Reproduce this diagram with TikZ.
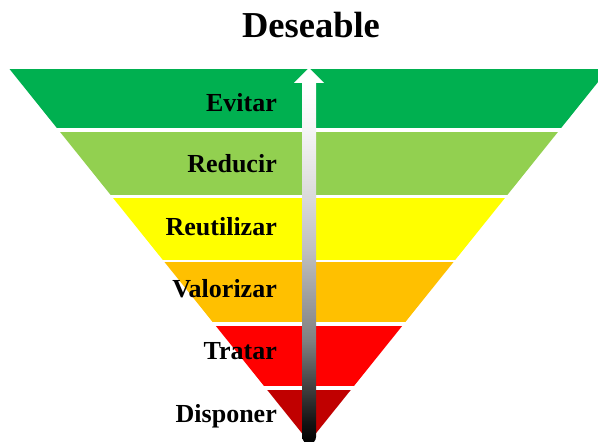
\documentclass[tikz,border=0pt]{standalone}
\usepackage{fontspec}
\setmainfont{Liberation Serif}
\definecolor{cEvitar}{HTML}{00B050}
\definecolor{cReducir}{HTML}{92D050}
\definecolor{cReutil}{HTML}{FFFF00}
\definecolor{cValor}{HTML}{FFC000}
\definecolor{cTratar}{HTML}{FF0000}
\definecolor{cDisp}{HTML}{C00000}
\pgfdeclareverticalshading{shaftshade}{100bp}{%
  color(0bp)=(black);
  color(25bp)=(black);
  color(28.06bp)=(black!92);
  color(32.8bp)=(black!75);
  color(39.2bp)=(black!50);
  color(51.74bp)=(black!25);
  color(58.7bp)=(black!15);
  color(68.45bp)=(black!4);
  color(75bp)=(white);
  color(100bp)=(white)}
\begin{document}
\begin{tikzpicture}[x=1pt,y=1pt,
  lbl/.style={anchor=base east,inner sep=0pt,font=\bfseries\fontsize{26}{30}\selectfont},
  ttl/.style={anchor=base,inner sep=0pt,font=\bfseries\fontsize{36.5}{40}\selectfont}]
\useasboundingbox (0,0) rectangle (598,442);
\fill[white] (0,0) rectangle (598,442);
\begin{scope}
\clip (0,0) rectangle (598,442);
\clip (309,0) -- (9.5,373) -- (608.5,373) -- cycle;
\fill[cEvitar]  (0,313.5) rectangle (620,373);
\fill[cReducir] (0,246.5) rectangle (620,309.5);
\fill[cReutil]  (0,181.5) rectangle (620,243.5);
\fill[cValor]   (0,119.5) rectangle (620,179.5);
\fill[cTratar]  (0,55.5)  rectangle (620,116);
\fill[cDisp]    (0,-2)    rectangle (620,52);
\end{scope}
\node[ttl] (title) at (311,404.7) {Deseable};
\node[lbl] (evitar) at (277,330) {Evitar};
\node[lbl] (reducir) at (277,269.5) {Reducir};
\node[lbl] (reutil) at (277,206) {Reutilizar};
\node[lbl] (valor) at (277,144) {Valorizar};
\node[lbl] (tratar) at (277,82.5) {Tratar};
\node[lbl] (disp) at (277,19) {Disponer};
% arrow
\shade[shading=shaftshade] (302.3,359.5) -- (302.3,5) arc[start angle=180,end angle=360,radius=6.85] -- (316,359.5) -- cycle;
\fill[white] (309,374) -- (294,359) -- (324,359) -- cycle;
\end{tikzpicture}
\end{document}
